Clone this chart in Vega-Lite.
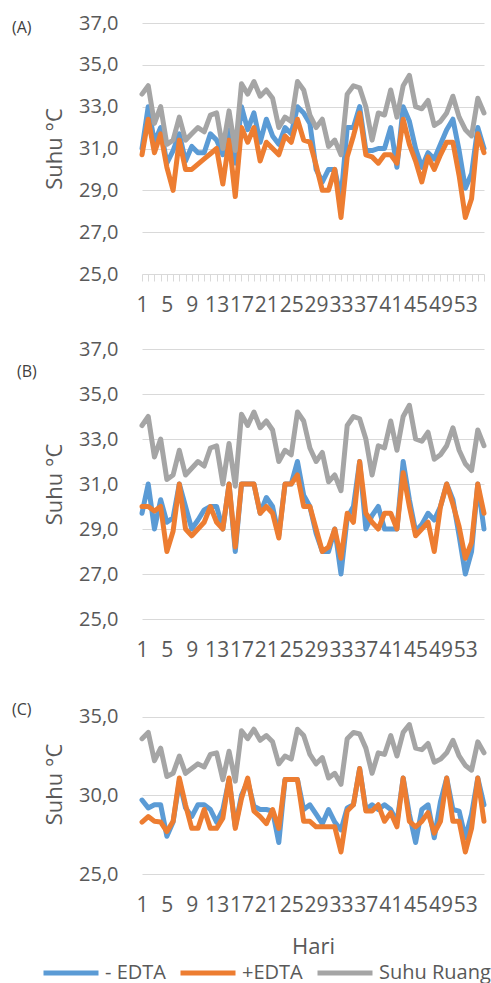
{
  "$schema": "https://vega.github.io/schema/vega-lite/v6.json",
  "background": "white",
  "autosize": {"type": "pad"},
  "padding": {"left": 12, "top": 13, "right": 3, "bottom": 0},
  "bounds": "flush",
  "spacing": 75,
  "datasets": {
    "g": [
      {"d":1,"s":"Suhu Ruang","v":33.6},{"d":2,"s":"Suhu Ruang","v":34.0},{"d":3,"s":"Suhu Ruang","v":32.2},{"d":4,"s":"Suhu Ruang","v":33.0},{"d":5,"s":"Suhu Ruang","v":31.2},{"d":6,"s":"Suhu Ruang","v":31.4},{"d":7,"s":"Suhu Ruang","v":32.5},{"d":8,"s":"Suhu Ruang","v":31.4},{"d":9,"s":"Suhu Ruang","v":31.7},{"d":10,"s":"Suhu Ruang","v":32.0},
      {"d":11,"s":"Suhu Ruang","v":31.8},{"d":12,"s":"Suhu Ruang","v":32.6},{"d":13,"s":"Suhu Ruang","v":32.7},{"d":14,"s":"Suhu Ruang","v":31.0},{"d":15,"s":"Suhu Ruang","v":32.8},{"d":16,"s":"Suhu Ruang","v":30.9},{"d":17,"s":"Suhu Ruang","v":34.1},{"d":18,"s":"Suhu Ruang","v":33.6},{"d":19,"s":"Suhu Ruang","v":34.2},{"d":20,"s":"Suhu Ruang","v":33.5},
      {"d":21,"s":"Suhu Ruang","v":33.8},{"d":22,"s":"Suhu Ruang","v":33.4},{"d":23,"s":"Suhu Ruang","v":32.0},{"d":24,"s":"Suhu Ruang","v":32.5},{"d":25,"s":"Suhu Ruang","v":32.3},{"d":26,"s":"Suhu Ruang","v":34.2},{"d":27,"s":"Suhu Ruang","v":33.8},{"d":28,"s":"Suhu Ruang","v":32.6},{"d":29,"s":"Suhu Ruang","v":32.0},{"d":30,"s":"Suhu Ruang","v":32.4},
      {"d":31,"s":"Suhu Ruang","v":31.1},{"d":32,"s":"Suhu Ruang","v":31.4},{"d":33,"s":"Suhu Ruang","v":30.7},{"d":34,"s":"Suhu Ruang","v":33.6},{"d":35,"s":"Suhu Ruang","v":34.0},{"d":36,"s":"Suhu Ruang","v":33.9},{"d":37,"s":"Suhu Ruang","v":33.0},{"d":38,"s":"Suhu Ruang","v":31.4},{"d":39,"s":"Suhu Ruang","v":32.7},{"d":40,"s":"Suhu Ruang","v":32.6},
      {"d":41,"s":"Suhu Ruang","v":33.8},{"d":42,"s":"Suhu Ruang","v":32.5},{"d":43,"s":"Suhu Ruang","v":34.0},{"d":44,"s":"Suhu Ruang","v":34.5},{"d":45,"s":"Suhu Ruang","v":33.0},{"d":46,"s":"Suhu Ruang","v":32.9},{"d":47,"s":"Suhu Ruang","v":33.3},{"d":48,"s":"Suhu Ruang","v":32.1},{"d":49,"s":"Suhu Ruang","v":32.3},{"d":50,"s":"Suhu Ruang","v":32.7},
      {"d":51,"s":"Suhu Ruang","v":33.5},{"d":52,"s":"Suhu Ruang","v":32.5},{"d":53,"s":"Suhu Ruang","v":31.9},{"d":54,"s":"Suhu Ruang","v":31.6},{"d":55,"s":"Suhu Ruang","v":33.4},{"d":56,"s":"Suhu Ruang","v":32.7}
    ],
    "a": [
      {"d":1,"s":"- EDTA","v":31.0},{"d":2,"s":"- EDTA","v":33.0},{"d":3,"s":"- EDTA","v":31.3},{"d":4,"s":"- EDTA","v":32.0},{"d":5,"s":"- EDTA","v":30.3},{"d":6,"s":"- EDTA","v":30.9},{"d":7,"s":"- EDTA","v":31.7},{"d":8,"s":"- EDTA","v":30.4},{"d":9,"s":"- EDTA","v":31.1},{"d":10,"s":"- EDTA","v":30.8},
      {"d":11,"s":"- EDTA","v":30.8},{"d":12,"s":"- EDTA","v":31.7},{"d":13,"s":"- EDTA","v":31.4},{"d":14,"s":"- EDTA","v":30.7},{"d":15,"s":"- EDTA","v":31.9},{"d":16,"s":"- EDTA","v":30.3},{"d":17,"s":"- EDTA","v":33.0},{"d":18,"s":"- EDTA","v":31.9},{"d":19,"s":"- EDTA","v":32.7},{"d":20,"s":"- EDTA","v":31.3},
      {"d":21,"s":"- EDTA","v":32.4},{"d":22,"s":"- EDTA","v":31.6},{"d":23,"s":"- EDTA","v":31.2},{"d":24,"s":"- EDTA","v":32.0},{"d":25,"s":"- EDTA","v":31.7},{"d":26,"s":"- EDTA","v":33.0},{"d":27,"s":"- EDTA","v":32.7},{"d":28,"s":"- EDTA","v":32.2},{"d":29,"s":"- EDTA","v":30.0},{"d":30,"s":"- EDTA","v":29.4},
      {"d":31,"s":"- EDTA","v":30.0},{"d":32,"s":"- EDTA","v":30.0},{"d":33,"s":"- EDTA","v":28.6},{"d":34,"s":"- EDTA","v":32.0},{"d":35,"s":"- EDTA","v":32.0},{"d":36,"s":"- EDTA","v":33.0},{"d":37,"s":"- EDTA","v":30.9},{"d":38,"s":"- EDTA","v":30.9},{"d":39,"s":"- EDTA","v":31.0},{"d":40,"s":"- EDTA","v":31.0},
      {"d":41,"s":"- EDTA","v":32.0},{"d":42,"s":"- EDTA","v":30.1},{"d":43,"s":"- EDTA","v":33.0},{"d":44,"s":"- EDTA","v":32.3},{"d":45,"s":"- EDTA","v":31.0},{"d":46,"s":"- EDTA","v":30.1},{"d":47,"s":"- EDTA","v":30.8},{"d":48,"s":"- EDTA","v":30.5},{"d":49,"s":"- EDTA","v":31.2},{"d":50,"s":"- EDTA","v":31.9},
      {"d":51,"s":"- EDTA","v":32.4},{"d":52,"s":"- EDTA","v":30.9},{"d":53,"s":"- EDTA","v":29.1},{"d":54,"s":"- EDTA","v":29.8},{"d":55,"s":"- EDTA","v":32.0},{"d":56,"s":"- EDTA","v":31.0},
      {"d":1,"s":"+EDTA","v":30.7},{"d":2,"s":"+EDTA","v":32.4},{"d":3,"s":"+EDTA","v":30.8},{"d":4,"s":"+EDTA","v":31.7},{"d":5,"s":"+EDTA","v":30.1},{"d":6,"s":"+EDTA","v":29.0},{"d":7,"s":"+EDTA","v":31.4},{"d":8,"s":"+EDTA","v":30.0},{"d":9,"s":"+EDTA","v":30.0},{"d":10,"s":"+EDTA","v":30.25},
      {"d":11,"s":"+EDTA","v":30.5},{"d":12,"s":"+EDTA","v":30.75},{"d":13,"s":"+EDTA","v":31.0},{"d":14,"s":"+EDTA","v":29.3},{"d":15,"s":"+EDTA","v":31.4},{"d":16,"s":"+EDTA","v":28.7},{"d":17,"s":"+EDTA","v":32.0},{"d":18,"s":"+EDTA","v":31.3},{"d":19,"s":"+EDTA","v":32.0},{"d":20,"s":"+EDTA","v":30.4},
      {"d":21,"s":"+EDTA","v":31.3},{"d":22,"s":"+EDTA","v":31.0},{"d":23,"s":"+EDTA","v":30.7},{"d":24,"s":"+EDTA","v":31.6},{"d":25,"s":"+EDTA","v":31.3},{"d":26,"s":"+EDTA","v":32.4},{"d":27,"s":"+EDTA","v":31.4},{"d":28,"s":"+EDTA","v":31.3},{"d":29,"s":"+EDTA","v":30.2},{"d":30,"s":"+EDTA","v":29.0},
      {"d":31,"s":"+EDTA","v":29.0},{"d":32,"s":"+EDTA","v":30.0},{"d":33,"s":"+EDTA","v":27.7},{"d":34,"s":"+EDTA","v":30.6},{"d":35,"s":"+EDTA","v":31.6},{"d":36,"s":"+EDTA","v":32.7},{"d":37,"s":"+EDTA","v":30.7},{"d":38,"s":"+EDTA","v":30.6},{"d":39,"s":"+EDTA","v":30.3},{"d":40,"s":"+EDTA","v":30.7},
      {"d":41,"s":"+EDTA","v":30.7},{"d":42,"s":"+EDTA","v":30.3},{"d":43,"s":"+EDTA","v":32.4},{"d":44,"s":"+EDTA","v":31.2},{"d":45,"s":"+EDTA","v":30.4},{"d":46,"s":"+EDTA","v":29.4},{"d":47,"s":"+EDTA","v":30.6},{"d":48,"s":"+EDTA","v":30.0},{"d":49,"s":"+EDTA","v":30.7},{"d":50,"s":"+EDTA","v":31.3},
      {"d":51,"s":"+EDTA","v":31.3},{"d":52,"s":"+EDTA","v":29.7},{"d":53,"s":"+EDTA","v":27.7},{"d":54,"s":"+EDTA","v":28.6},{"d":55,"s":"+EDTA","v":31.7},{"d":56,"s":"+EDTA","v":30.8}
    ],
    "b": [
      {"d":1,"s":"- EDTA","v":29.7},{"d":2,"s":"- EDTA","v":31.0},{"d":3,"s":"- EDTA","v":29.0},{"d":4,"s":"- EDTA","v":30.3},{"d":5,"s":"- EDTA","v":29.3},{"d":6,"s":"- EDTA","v":29.5},{"d":7,"s":"- EDTA","v":31.0},{"d":8,"s":"- EDTA","v":30.0},{"d":9,"s":"- EDTA","v":29.0},{"d":10,"s":"- EDTA","v":29.4},
      {"d":11,"s":"- EDTA","v":29.85},{"d":12,"s":"- EDTA","v":30.0},{"d":13,"s":"- EDTA","v":30.0},{"d":14,"s":"- EDTA","v":29.0},{"d":15,"s":"- EDTA","v":31.0},{"d":16,"s":"- EDTA","v":28.0},{"d":17,"s":"- EDTA","v":31.0},{"d":18,"s":"- EDTA","v":31.0},{"d":19,"s":"- EDTA","v":31.0},{"d":20,"s":"- EDTA","v":29.7},
      {"d":21,"s":"- EDTA","v":30.4},{"d":22,"s":"- EDTA","v":30.0},{"d":23,"s":"- EDTA","v":28.7},{"d":24,"s":"- EDTA","v":31.0},{"d":25,"s":"- EDTA","v":31.0},{"d":26,"s":"- EDTA","v":32.0},{"d":27,"s":"- EDTA","v":30.5},{"d":28,"s":"- EDTA","v":30.0},{"d":29,"s":"- EDTA","v":28.8},{"d":30,"s":"- EDTA","v":28.0},
      {"d":31,"s":"- EDTA","v":28.0},{"d":32,"s":"- EDTA","v":29.0},{"d":33,"s":"- EDTA","v":27.0},{"d":34,"s":"- EDTA","v":29.5},{"d":35,"s":"- EDTA","v":30.0},{"d":36,"s":"- EDTA","v":32.0},{"d":37,"s":"- EDTA","v":29.0},{"d":38,"s":"- EDTA","v":29.6},{"d":39,"s":"- EDTA","v":30.0},{"d":40,"s":"- EDTA","v":29.0},
      {"d":41,"s":"- EDTA","v":29.0},{"d":42,"s":"- EDTA","v":29.0},{"d":43,"s":"- EDTA","v":32.0},{"d":44,"s":"- EDTA","v":30.3},{"d":45,"s":"- EDTA","v":28.9},{"d":46,"s":"- EDTA","v":29.2},{"d":47,"s":"- EDTA","v":29.7},{"d":48,"s":"- EDTA","v":29.4},{"d":49,"s":"- EDTA","v":30.0},{"d":50,"s":"- EDTA","v":31.0},
      {"d":51,"s":"- EDTA","v":30.3},{"d":52,"s":"- EDTA","v":28.7},{"d":53,"s":"- EDTA","v":27.0},{"d":54,"s":"- EDTA","v":28.0},{"d":55,"s":"- EDTA","v":31.0},{"d":56,"s":"- EDTA","v":29.0},
      {"d":1,"s":"+EDTA","v":30.0},{"d":2,"s":"+EDTA","v":30.0},{"d":3,"s":"+EDTA","v":29.8},{"d":4,"s":"+EDTA","v":30.0},{"d":5,"s":"+EDTA","v":28.0},{"d":6,"s":"+EDTA","v":28.9},{"d":7,"s":"+EDTA","v":31.0},{"d":8,"s":"+EDTA","v":29.0},{"d":9,"s":"+EDTA","v":28.7},{"d":10,"s":"+EDTA","v":29.0},
      {"d":11,"s":"+EDTA","v":29.3},{"d":12,"s":"+EDTA","v":30.0},{"d":13,"s":"+EDTA","v":29.3},{"d":14,"s":"+EDTA","v":29.0},{"d":15,"s":"+EDTA","v":31.0},{"d":16,"s":"+EDTA","v":28.2},{"d":17,"s":"+EDTA","v":31.0},{"d":18,"s":"+EDTA","v":31.0},{"d":19,"s":"+EDTA","v":31.0},{"d":20,"s":"+EDTA","v":29.7},
      {"d":21,"s":"+EDTA","v":30.0},{"d":22,"s":"+EDTA","v":29.7},{"d":23,"s":"+EDTA","v":28.6},{"d":24,"s":"+EDTA","v":31.0},{"d":25,"s":"+EDTA","v":31.0},{"d":26,"s":"+EDTA","v":31.4},{"d":27,"s":"+EDTA","v":30.0},{"d":28,"s":"+EDTA","v":30.0},{"d":29,"s":"+EDTA","v":29.0},{"d":30,"s":"+EDTA","v":28.0},
      {"d":31,"s":"+EDTA","v":28.2},{"d":32,"s":"+EDTA","v":29.0},{"d":33,"s":"+EDTA","v":27.7},{"d":34,"s":"+EDTA","v":29.7},{"d":35,"s":"+EDTA","v":29.3},{"d":36,"s":"+EDTA","v":32.0},{"d":37,"s":"+EDTA","v":29.7},{"d":38,"s":"+EDTA","v":29.3},{"d":39,"s":"+EDTA","v":29.0},{"d":40,"s":"+EDTA","v":29.7},
      {"d":41,"s":"+EDTA","v":29.7},{"d":42,"s":"+EDTA","v":29.0},{"d":43,"s":"+EDTA","v":31.5},{"d":44,"s":"+EDTA","v":30.0},{"d":45,"s":"+EDTA","v":28.7},{"d":46,"s":"+EDTA","v":29.0},{"d":47,"s":"+EDTA","v":29.3},{"d":48,"s":"+EDTA","v":28.0},{"d":49,"s":"+EDTA","v":30.0},{"d":50,"s":"+EDTA","v":31.0},
      {"d":51,"s":"+EDTA","v":30.1},{"d":52,"s":"+EDTA","v":29.1},{"d":53,"s":"+EDTA","v":27.7},{"d":54,"s":"+EDTA","v":28.4},{"d":55,"s":"+EDTA","v":31.0},{"d":56,"s":"+EDTA","v":29.7}
    ],
    "c": [
      {"d":1,"s":"- EDTA","v":29.7},{"d":2,"s":"- EDTA","v":29.2},{"d":3,"s":"- EDTA","v":29.4},{"d":4,"s":"- EDTA","v":29.4},{"d":5,"s":"- EDTA","v":27.4},{"d":6,"s":"- EDTA","v":28.3},{"d":7,"s":"- EDTA","v":30.9},{"d":8,"s":"- EDTA","v":29.2},{"d":9,"s":"- EDTA","v":28.65},{"d":10,"s":"- EDTA","v":29.4},
      {"d":11,"s":"- EDTA","v":29.4},{"d":12,"s":"- EDTA","v":29.1},{"d":13,"s":"- EDTA","v":28.3},{"d":14,"s":"- EDTA","v":29.1},{"d":15,"s":"- EDTA","v":31.0},{"d":16,"s":"- EDTA","v":28.0},{"d":17,"s":"- EDTA","v":30.0},{"d":18,"s":"- EDTA","v":30.9},{"d":19,"s":"- EDTA","v":29.3},{"d":20,"s":"- EDTA","v":29.1},
      {"d":21,"s":"- EDTA","v":29.1},{"d":22,"s":"- EDTA","v":29.0},{"d":23,"s":"- EDTA","v":27.0},{"d":24,"s":"- EDTA","v":31.0},{"d":25,"s":"- EDTA","v":31.0},{"d":26,"s":"- EDTA","v":31.0},{"d":27,"s":"- EDTA","v":29.1},{"d":28,"s":"- EDTA","v":29.4},{"d":29,"s":"- EDTA","v":28.8},{"d":30,"s":"- EDTA","v":28.2},
      {"d":31,"s":"- EDTA","v":29.1},{"d":32,"s":"- EDTA","v":28.3},{"d":33,"s":"- EDTA","v":27.8},{"d":34,"s":"- EDTA","v":29.2},{"d":35,"s":"- EDTA","v":29.4},{"d":36,"s":"- EDTA","v":31.7},{"d":37,"s":"- EDTA","v":29.1},{"d":38,"s":"- EDTA","v":29.4},{"d":39,"s":"- EDTA","v":29.1},{"d":40,"s":"- EDTA","v":29.4},
      {"d":41,"s":"- EDTA","v":29.1},{"d":42,"s":"- EDTA","v":28.3},{"d":43,"s":"- EDTA","v":31.1},{"d":44,"s":"- EDTA","v":28.8},{"d":45,"s":"- EDTA","v":27.0},{"d":46,"s":"- EDTA","v":29.1},{"d":47,"s":"- EDTA","v":29.4},{"d":48,"s":"- EDTA","v":27.3},{"d":49,"s":"- EDTA","v":29.6},{"d":50,"s":"- EDTA","v":31.1},
      {"d":51,"s":"- EDTA","v":29.1},{"d":52,"s":"- EDTA","v":29.0},{"d":53,"s":"- EDTA","v":27.3},{"d":54,"s":"- EDTA","v":28.8},{"d":55,"s":"- EDTA","v":31.1},{"d":56,"s":"- EDTA","v":29.4},
      {"d":1,"s":"+EDTA","v":28.3},{"d":2,"s":"+EDTA","v":28.65},{"d":3,"s":"+EDTA","v":28.35},{"d":4,"s":"+EDTA","v":28.3},{"d":5,"s":"+EDTA","v":27.7},{"d":6,"s":"+EDTA","v":28.35},{"d":7,"s":"+EDTA","v":31.1},{"d":8,"s":"+EDTA","v":29.4},{"d":9,"s":"+EDTA","v":27.9},{"d":10,"s":"+EDTA","v":27.9},
      {"d":11,"s":"+EDTA","v":29.1},{"d":12,"s":"+EDTA","v":27.9},{"d":13,"s":"+EDTA","v":27.9},{"d":14,"s":"+EDTA","v":28.55},{"d":15,"s":"+EDTA","v":31.1},{"d":16,"s":"+EDTA","v":27.9},{"d":17,"s":"+EDTA","v":29.8},{"d":18,"s":"+EDTA","v":31.1},{"d":19,"s":"+EDTA","v":29.0},{"d":20,"s":"+EDTA","v":28.65},
      {"d":21,"s":"+EDTA","v":28.2},{"d":22,"s":"+EDTA","v":29.1},{"d":23,"s":"+EDTA","v":27.9},{"d":24,"s":"+EDTA","v":31.0},{"d":25,"s":"+EDTA","v":31.0},{"d":26,"s":"+EDTA","v":31.0},{"d":27,"s":"+EDTA","v":28.35},{"d":28,"s":"+EDTA","v":28.35},{"d":29,"s":"+EDTA","v":28.0},{"d":30,"s":"+EDTA","v":28.0},
      {"d":31,"s":"+EDTA","v":28.0},{"d":32,"s":"+EDTA","v":28.0},{"d":33,"s":"+EDTA","v":26.4},{"d":34,"s":"+EDTA","v":29.0},{"d":35,"s":"+EDTA","v":29.4},{"d":36,"s":"+EDTA","v":31.7},{"d":37,"s":"+EDTA","v":29.0},{"d":38,"s":"+EDTA","v":29.0},{"d":39,"s":"+EDTA","v":29.4},{"d":40,"s":"+EDTA","v":28.35},
      {"d":41,"s":"+EDTA","v":28.9},{"d":42,"s":"+EDTA","v":28.0},{"d":43,"s":"+EDTA","v":31.1},{"d":44,"s":"+EDTA","v":28.35},{"d":45,"s":"+EDTA","v":28.0},{"d":46,"s":"+EDTA","v":28.35},{"d":47,"s":"+EDTA","v":28.9},{"d":48,"s":"+EDTA","v":27.6},{"d":49,"s":"+EDTA","v":28.35},{"d":50,"s":"+EDTA","v":31.1},
      {"d":51,"s":"+EDTA","v":28.35},{"d":52,"s":"+EDTA","v":28.35},{"d":53,"s":"+EDTA","v":26.4},{"d":54,"s":"+EDTA","v":27.9},{"d":55,"s":"+EDTA","v":31.1},{"d":56,"s":"+EDTA","v":28.35}
    ]
  },
  "vconcat": [
    {
      "width": 342, "height": 251,
      "title": {"text": "(A)", "dx": -130, "dy": 27},
      "encoding": {
        "x": {"field": "d", "type": "quantitative", "scale": {"domain": [1, 56], "nice": false, "zero": false},
              "axis": {"values": [1,2,3,4,5,6,7,8,9,10,11,12,13,14,15,16,17,18,19,20,21,22,23,24,25,26,27,28,29,30,31,32,33,34,35,36,37,38,39,40,41,42,43,44,45,46,47,48,49,50,51,52,53,54,55,56],
                       "labelExpr": "(datum.value - 1) % 4 == 0 ? datum.label : ''",
                       "ticks": true, "tickColor": "#D9D9D9", "tickSize": 7, "tickWidth": 1, "labelPadding": 24, "title": null}},
        "y": {"field": "v", "type": "quantitative", "scale": {"domain": [25, 37], "nice": false, "zero": false},
              "axis": {"values": [25,27,29,31,33,35,37], "title": "Suhu °C"}},
        "color": {"field": "s", "type": "nominal", "scale": {"domain": ["- EDTA", "+EDTA", "Suhu Ruang"], "range": ["#5B9BD5", "#ED7D31", "#A5A5A5"]},
                  "legend": {"orient": "none", "direction": "horizontal", "legendX": -101, "legendY": 920, "title": null}}
      },
      "layer": [
        {"data": {"name": "a"}, "mark": {"type": "line", "strokeWidth": 5, "strokeJoin": "round", "strokeCap": "round"}},
        {"data": {"name": "g"}, "mark": {"type": "line", "strokeWidth": 5, "strokeJoin": "round", "strokeCap": "round"}}
      ]
    },
    {
      "width": 342, "height": 270,
      "title": {"text": "(B)", "dx": -125, "dy": 45},
      "encoding": {
        "x": {"field": "d", "type": "quantitative", "scale": {"domain": [1, 56], "nice": false, "zero": false},
              "axis": {"values": [1,5,9,13,17,21,25,29,33,37,41,45,49,53], "ticks": false, "labelPadding": 31, "title": null}},
        "y": {"field": "v", "type": "quantitative", "scale": {"domain": [25, 37], "nice": false, "zero": false},
              "axis": {"values": [25,27,29,31,33,35,37], "title": "Suhu °C"}},
        "color": {"field": "s", "type": "nominal"}
      },
      "layer": [
        {"data": {"name": "b"}, "mark": {"type": "line", "strokeWidth": 5, "strokeJoin": "round", "strokeCap": "round"}},
        {"data": {"name": "g"}, "mark": {"type": "line", "strokeWidth": 5, "strokeJoin": "round", "strokeCap": "round"}}
      ]
    },
    {
      "width": 342, "height": 180,
      "title": {"text": "(C)", "dx": -130, "dy": 28},
      "encoding": {
        "x": {"field": "d", "type": "quantitative", "scale": {"domain": [1, 56], "nice": false, "zero": false},
              "axis": {"values": [1,5,9,13,17,21,25,29,33,37,41,45,49,53], "ticks": false, "labelPadding": 31, "title": "Hari", "titlePadding": 21}},
        "y": {"field": "v", "type": "quantitative", "scale": {"domain": [25, 36.44], "nice": false, "zero": false},
              "axis": {"values": [25,30,35], "title": "Suhu °C"}},
        "color": {"field": "s", "type": "nominal"}
      },
      "layer": [
        {"data": {"name": "c"}, "mark": {"type": "line", "strokeWidth": 5, "strokeJoin": "round", "strokeCap": "round"}},
        {"data": {"name": "g"}, "mark": {"type": "line", "strokeWidth": 5, "strokeJoin": "round", "strokeCap": "round"}}
      ]
    }
  ],
  "config": {
    "view": {"stroke": null},
    "font": "Open Sans",
    "title": {"anchor": "start", "frame": "group", "orient": "top", "offset": 0, "baseline": "middle", "fontSize": 16, "fontWeight": "normal", "color": "#404040", "font": "Open Sans"},
    "axis": {"labelFont": "Open Sans", "titleFont": "Open Sans", "labelFontSize": 20, "labelColor": "#595959", "titleFontSize": 22, "titleFontWeight": "normal", "titleColor": "#595959", "domain": false, "labelOverlap": false, "labelBound": false, "labelFlush": false},
    "axisX": {"grid": false, "labelAngle": 0, "labelBaseline": "middle", "labelFontSize": 21},
    "axisY": {"grid": true, "gridColor": "#D9D9D9", "gridWidth": 1.2, "ticks": false, "labelPadding": 24, "titlePadding": 12, "labelExpr": "replace(format(datum.value, '.1f'), '.', ',')"},
    "legend": {"labelFont": "Open Sans", "labelFontSize": 20, "labelColor": "#595959", "symbolType": "stroke", "symbolSize": 3025, "symbolStrokeWidth": 5, "labelOffset": 4, "columnPadding": 4, "padding": 0}
  }
}
